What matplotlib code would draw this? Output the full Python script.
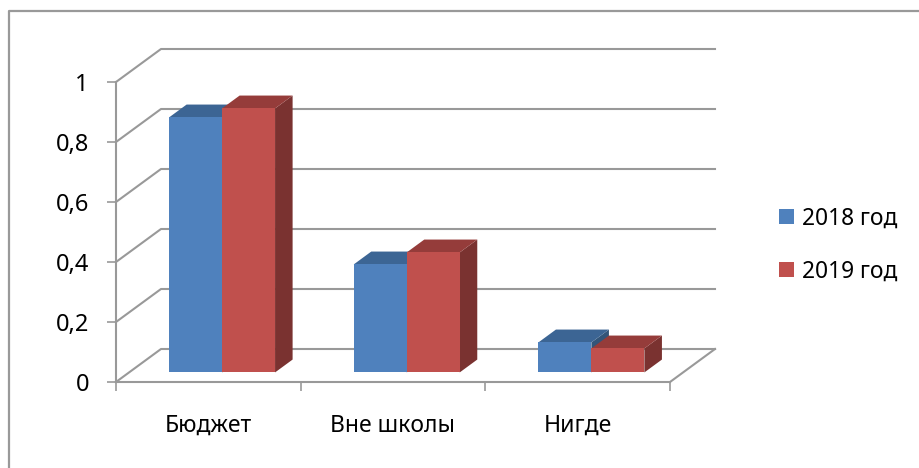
import matplotlib
matplotlib.use("Agg")
import matplotlib.pyplot as plt
from matplotlib.lines import Line2D
from matplotlib.patches import Patch, Polygon

# данные диаграммы
categories = ["Бюджет", "Вне школы", "Нигде"]
series_names = ["2018 год", "2019 год"]
values_2018 = [0.85, 0.36, 0.1]
values_2019 = [0.88, 0.40, 0.08]
y_ticks = [0, 0.2, 0.4, 0.6, 0.8, 1]
y_labels = ["0", "0,2", "0,4", "0,6", "0,8", "1"]

FRONT = ["#4F81BD", "#C0504D"]
TOP = ["#3C6594", "#953C3A"]
SIDE = ["#335579", "#7A3230"]
GRID = "#999999"

W, H = 919, 468
plt.rcParams["font.family"] = ["Noto Sans", "DejaVu Sans"]

fig = plt.figure(figsize=(W / 100, H / 100), dpi=100)

# рамка области: только верх и лево
fig.add_artist(Line2D([9 / W, 9 / W, 1], [0, 1 - 11 / H, 1 - 11 / H], color="#999999", lw=1.6,
                      transform=fig.transFigure))

# передняя плоскость оси: x 116..670, y 382..82 пикселей
ax = fig.add_axes([116 / W, 1 - 382 / H, 554 / W, 300 / H])
ax.set_xlim(0, 3)
ax.set_ylim(0, 1)
ax.patch.set_visible(False)

# смещение глубины в единицах данных
dx = 45 / (554 / 3)
dy = 33 / 300


def depth(x, y, d):
    return x + d * dx, y + d * dy


for v in y_ticks:
    x0, y0 = depth(0, v, 1)
    ax.plot([0, x0, x0 + 3], [v, y0, y0], color=GRID, lw=1.5, clip_on=False, zorder=1)
ax.plot([3, 3 + dx], [0, dy], color=GRID, lw=1.5, clip_on=False, zorder=1)

bar_w = 53 / (554 / 3)
group_start = 40 / (554 / 3)
bar_d0 = 0.29
bar_d1 = 0.68


def draw_bar(x, h, i):
    x2 = x + bar_w
    a = depth(x, 0, bar_d0)
    b = depth(x2, 0, bar_d0)
    c = depth(x2, h, bar_d0)
    e = depth(x, h, bar_d0)
    c2 = depth(x2, h, bar_d1)
    e2 = depth(x, h, bar_d1)
    b2 = depth(x2, 0, bar_d1)
    ax.add_patch(Polygon([b, b2, c2, c], fc=SIDE[i], ec="none", clip_on=False, zorder=3))
    ax.add_patch(Polygon([e, c, c2, e2], fc=TOP[i], ec="none", clip_on=False, zorder=3))
    ax.add_patch(Polygon([a, b, c, e], fc=FRONT[i], ec="none", clip_on=False, zorder=3))


for k in range(len(categories)):
    draw_bar(k + group_start, values_2018[k], 0)
    draw_bar(k + group_start + bar_w, values_2019[k], 1)

for side in ["top", "right"]:
    ax.spines[side].set_visible(False)
for side in ["left", "bottom"]:
    ax.spines[side].set_color(GRID)
    ax.spines[side].set_linewidth(1.5)

ax.set_yticks(y_ticks)
ax.set_yticklabels(y_labels, fontsize=17, color="black")
ax.tick_params(axis="y", length=6.5, width=1.2, color=GRID, pad=13)
ax.set_xticks([0, 1, 2, 3])
ax.set_xticklabels([])
ax.tick_params(axis="x", which="major", length=6.5, width=1.2, color=GRID)
ax.set_xticks([0.5, 1.5, 2.5], minor=True)
ax.set_xticklabels(categories, minor=True, fontsize=16.5, color="black")
ax.tick_params(axis="x", which="minor", length=0, pad=23)

handles = [Patch(fc=FRONT[0], ec="none"), Patch(fc=FRONT[1], ec="none")]
fig.legend(handles, series_names, loc="center left", bbox_to_anchor=(779 / W, 1 - 245 / H),
           frameon=False, fontsize=16.4, handlelength=0.66, handleheight=0.66,
           handletextpad=0.35, labelspacing=1.27, borderpad=0, borderaxespad=0)

fig.savefig("out.png", dpi=100)
